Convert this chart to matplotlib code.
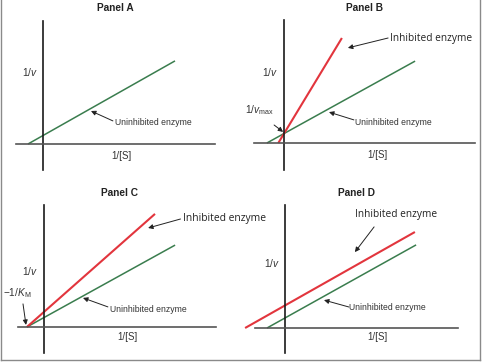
import matplotlib.pyplot as plt
from matplotlib.lines import Line2D

# Lineweaver-Burk sketches, values in arbitrary units (1 unit ~ 30 px)
panel_names = ['Panel A', 'Panel B', 'Panel C', 'Panel D']

uninhib_x = [[-0.5, 4.4], [-0.57, 4.37], [-0.57, 4.37], [-0.6, 4.37]]
uninhib_y = [[0.0, 2.77], [0.0, 2.73], [0.0, 2.73], [0.0, 2.77]]

inhib_x = [None, [-0.19, 1.93], [-0.57, 3.7], [-1.33, 4.33]]
inhib_y = [None, [0.0, 3.5], [0.0, 3.77], [0.0, 3.2]]

plt.rcParams['mathtext.fontset'] = 'custom'
plt.rcParams['mathtext.rm'] = 'Liberation Sans'
plt.rcParams['mathtext.it'] = 'Liberation Sans:italic'

W, H = 484, 363
UNIT = 30.0
GREEN = '#3a7d4e'
RED = '#e2353d'
TXT = '#333333'
SMALL = ['Liberation Sans', 'DejaVu Sans']
BIG = ['Open Sans', 'DejaVu Sans']

# axes box (px): x0, x1, ytop, ybot, origin x, origin y
boxes = [
    (16, 215, 21, 170, 43, 144),
    (254, 475, 20, 170, 284, 143),
    (18, 216, 205, 353, 44, 327),
    (255, 458, 205, 353, 285, 328),
]

fig = plt.figure(figsize=(W / 100, H / 100), dpi=100)
fig.patch.set_facecolor('white')

axes = []
for (x0, x1, yt, yb, ox, oy) in boxes:
    ax = fig.add_axes([x0 / W, 1 - yb / H, (x1 - x0) / W, (yb - yt) / H])
    ax.set_xlim((x0 - ox) / UNIT, (x1 - ox) / UNIT)
    ax.set_ylim((oy - yb) / UNIT, (oy - yt) / UNIT)
    ax.spines['left'].set_position(('data', 0))
    ax.spines['bottom'].set_position(('data', 0))
    ax.spines['top'].set_visible(False)
    ax.spines['right'].set_visible(False)
    ax.spines['left'].set_color('#1a1a1a')
    ax.spines['bottom'].set_color('#555555')
    ax.spines['left'].set_linewidth(1.2)
    ax.spines['bottom'].set_linewidth(1.2)
    ax.set_xticks([])
    ax.set_yticks([])
    ax.patch.set_alpha(0)
    axes.append(ax)

for i, ax in enumerate(axes):
    ax.plot(uninhib_x[i], uninhib_y[i], color=GREEN, lw=1.1, clip_on=False,
            solid_capstyle='butt')
    if inhib_x[i] is not None:
        ax.plot(inhib_x[i], inhib_y[i], color=RED, lw=1.5, clip_on=False,
                solid_capstyle='butt')


def arrow(ax, tip, tail):
    ax.annotate('', xy=tip, xytext=tail,
                arrowprops=dict(arrowstyle='-|>', lw=0.7, color='#222222',
                                mutation_scale=7, shrinkA=0, shrinkB=0),
                annotation_clip=False)


def label(ax, x, y, s, **kw):
    kw.setdefault('fontsize', 7)
    kw.setdefault('family', SMALL)
    kw.setdefault('color', TXT)
    ax.text(x, y, s, clip_on=False, **kw)


# titles and axis labels
title_pos = [(2.4, 4.53), (2.7, 4.5), (2.53, 4.47), (2.4, 4.5)]
vlab_pos = [(-0.43, 2.4), (-0.47, 2.37), (-0.47, 1.87), (-0.43, 2.17)]
slab_pos = [(2.63, -0.4), (3.1, -0.4), (2.77, -0.33), (3.07, -0.3)]
for i, ax in enumerate(axes):
    label(ax, *title_pos[i], panel_names[i], fontsize=7.3, fontweight='bold',
          ha='center', va='center', color='#222222')
    label(ax, *vlab_pos[i], '1/$\\it{v}$', fontsize=7.3, ha='center', va='center')
    label(ax, *slab_pos[i], '1/[S]', fontsize=7, ha='center', va='center')

# uninhibited labels
un_text = [(2.4, 0.73), (2.37, 0.7), (2.2, 0.6), (2.13, 0.67)]
un_tail = [(2.33, 0.77), (2.33, 0.77), (2.13, 0.67), (2.13, 0.7)]
un_tip = [(1.6, 1.1), (1.5, 1.03), (1.3, 0.97), (1.3, 0.93)]
for i, ax in enumerate(axes):
    label(ax, *un_text[i], 'Uninhibited enzyme', fontsize=6.2, ha='left',
          va='center')
    arrow(ax, un_tip[i], un_tail[i])

# inhibited labels
label(axes[1], 3.53, 3.47, 'Inhibited enzyme', fontsize=7.3, family=BIG,
      ha='left', va='center', color='#222222')
arrow(axes[1], (2.13, 3.17), (3.47, 3.5))
label(axes[2], 4.63, 3.63, 'Inhibited enzyme', fontsize=7.4, family=BIG,
      ha='left', va='center', color='#222222')
arrow(axes[2], (3.47, 3.3), (4.55, 3.6))
label(axes[3], 2.33, 3.8, 'Inhibited enzyme', fontsize=7.3, family=BIG,
      ha='left', va='center', color='#222222')
arrow(axes[3], (2.33, 2.53), (2.97, 3.37))

# special intercept labels
label(axes[1], -0.33, 1.1, '1/$\\it{v}_{\\rm max}$', fontsize=7.3, ha='right',
      va='center')
arrow(axes[1], (-0.03, 0.37), (-0.33, 0.6))
label(axes[2], -0.4, 1.13, '\u22121/$\\it{K}_{\\rm M}$', fontsize=7.3,
      ha='right', va='center')
arrow(axes[2], (-0.6, 0.07), (-0.7, 0.77))

# thin frame around the picture
for xs, ys in [([1, 1], [0, 360]), ([1, 480], [360, 360]), ([480, 480], [0, 360])]:
    fig.add_artist(Line2D([x / W for x in xs], [1 - y / H for y in ys],
                          color='#8a8a8a', lw=1.0))

fig.savefig('out.png', dpi=100)
